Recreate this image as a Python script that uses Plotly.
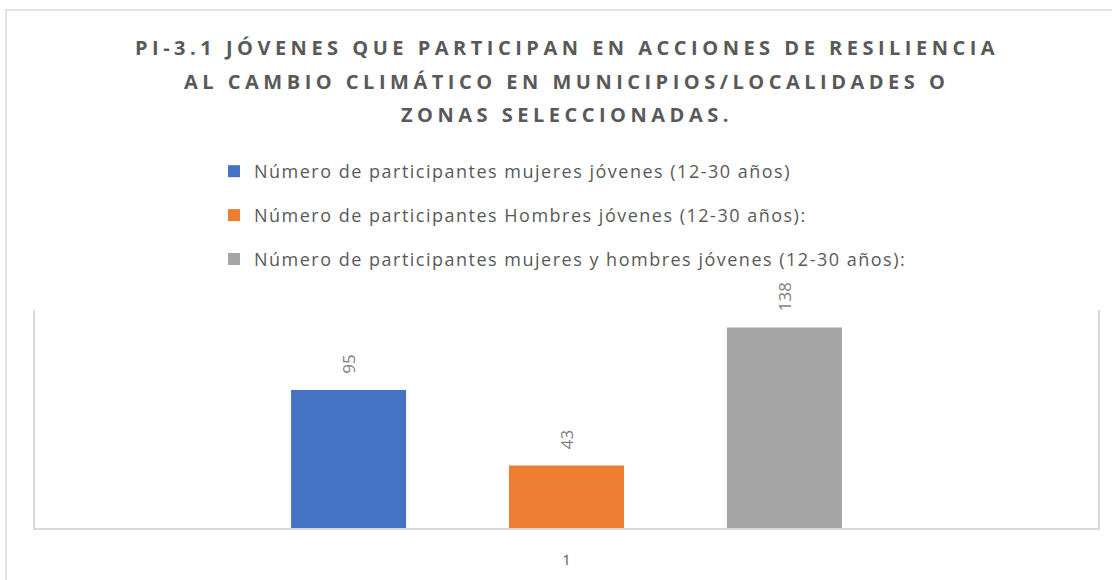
import plotly.graph_objects as go

# ====================================

categorias = ['1']
series = [
    'Número de participantes mujeres jóvenes (12-30 años)',
    'Número de participantes Hombres jóvenes (12-30 años):',
    'Número de participantes mujeres y hombres jóvenes (12-30 años):',
]
valores_mujeres = [95]
valores_hombres = [43]
valores_total = [138]
colores = ['#4472c4', '#ed7d31', '#a5a5a5']

titulo = [
    'PI-3.1 JÓVENES QUE PARTICIPAN EN ACCIONES DE RESILIENCIA',
    'AL CAMBIO CLIMÁTICO EN MUNICIPIOS/LOCALIDADES O',
    'ZONAS SELECCIONADAS.',
]

# ====================================

W, H = 1112, 580
M_L, M_R, M_T, M_B = 35, 14, 310, 52
plot_h = H - M_T - M_B
plot_w = W - M_L - M_R


def py(p):
    # pixel y -> paper y
    return (H - M_B - p) / plot_h


def px(p):
    return (p - M_L) / plot_w


fig = go.Figure()

for nombre, valores, color in zip(series, [valores_mujeres, valores_hombres, valores_total], colores):
    fig.add_trace(
        go.Bar(
            x=categorias,
            y=valores,
            name=f'<span style="letter-spacing:1.5px">{nombre}</span>',
            legendgroup=nombre,
            marker=dict(color=color, line=dict(width=0)),
            text=[f'\u00a0\u00a0\u00a0{v}' for v in valores],
            textposition='outside',
            textangle=-90,
            textfont=dict(family='Open Sans', size=17, color='#7f7f7f'),
            cliponaxis=False,
            hovertemplate='%{y}<extra></extra>',
        )
    )

anotaciones = []
for i, linea in enumerate(titulo):
    anotaciones.append(dict(
        text=f'<span style="letter-spacing:4.5px">{linea}</span>',
        x=0.5, xref='paper',
        y=py(47.5 + i * 33.5), yref='paper',
        xanchor='center', yanchor='middle',
        showarrow=False,
        font=dict(family='Open Sans', size=20, color='#595959', weight='bold'),
    ))

fig.update_layout(
    width=W, height=H,
    barmode='group',
    bargap=0.385,
    bargroupgap=0.472,
    annotations=anotaciones,
    showlegend=True,
    legend=dict(
        orientation='v',
        x=px(214), xanchor='left',
        y=py(153), yanchor='top',
        font=dict(family='Open Sans', size=18, color='#595959'),
        tracegroupgap=17.5,
        traceorder='grouped',
        bgcolor='rgba(0,0,0,0)',
    ),
    shapes=[dict(
        type='rect', xref='paper', yref='paper',
        x0=px(6), x1=px(1130), y0=py(600), y1=py(10),
        line=dict(color='#d9d9d9', width=1.5),
        fillcolor='rgba(0,0,0,0)', layer='below',
    )],
    xaxis=dict(
        type='category',
        showline=True, linecolor='#d9d9d9', linewidth=1.5,
        showgrid=False, ticks='',
        ticklabelstandoff=17,
        tickfont=dict(family='Open Sans', size=15, color='#595959'),
    ),
    yaxis=dict(
        range=[0, 150],
        showline=True, mirror=True, linecolor='#d9d9d9', linewidth=1.5,
        showgrid=False, showticklabels=False, ticks='', zeroline=False,
    ),
    paper_bgcolor='white',
    plot_bgcolor='white',
    margin=dict(t=M_T, b=M_B, r=M_R, l=M_L),
)

fig.write_html(
    'out.html',
    config={'displayModeBar': False},
    post_script="document.body.style.margin='0';",
)
